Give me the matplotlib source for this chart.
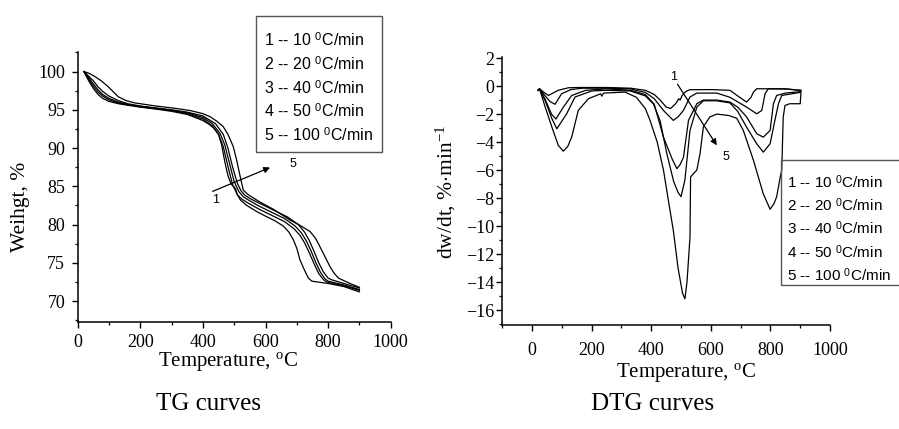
import matplotlib
matplotlib.use("Agg")
import matplotlib.pyplot as plt
from matplotlib.patches import Rectangle
from matplotlib.ticker import MultipleLocator

plt.rcParams['font.family'] = ['Liberation Serif', 'DejaVu Serif']
plt.rcParams['mathtext.fontset'] = 'custom'
plt.rcParams['mathtext.rm'] = 'Liberation Serif'
plt.rcParams['mathtext.sf'] = 'Liberation Sans'
plt.rcParams['mathtext.it'] = 'Liberation Serif:italic'

# ---------------- data ----------------
rates = [10, 20, 40, 50, 100]

# TG curves (temperature degC, weight %)
tg_t1 = [20, 35, 50, 65, 80, 100, 130, 160, 200, 250, 300, 350, 400, 420, 435, 450, 460, 470, 480,
         490, 500, 505, 510, 520, 540, 572, 600, 630, 657, 675, 689, 700, 710, 725, 737, 748, 800, 850, 900]
tg_w1 = [100, 98.8, 97.8, 97.0, 96.5, 96.1, 95.8, 95.6, 95.35, 95.1, 94.8, 94.4, 93.6, 93.1, 92.6, 91.8,
         90.4, 88.2, 86.4, 85.3, 84.9, 84.6, 83.9, 83.2, 82.5, 81.7, 81.1, 80.5, 79.8, 79.0, 78.0, 76.9,
         75.4, 74.0, 73.0, 72.6, 72.3, 71.9, 71.2]
tg_t2 = [20, 35, 50, 65, 80, 100, 130, 160, 200, 250, 300, 350, 400, 430, 450, 465, 480, 495, 510,
         525, 545, 580, 620, 660, 690, 710, 725, 740, 755, 770, 785, 795, 850, 900]
tg_w2 = [100, 99.0, 98.1, 97.3, 96.8, 96.3, 95.9, 95.65, 95.4, 95.15, 94.9, 94.5, 93.8, 92.9, 91.8,
         90.2, 87.6, 85.2, 83.9, 83.3, 82.8, 82.0, 81.2, 80.4, 79.5, 78.6, 77.6, 76.3, 74.9, 73.6,
         72.8, 72.5, 72.0, 71.4]
tg_t3 = [20, 35, 50, 65, 80, 100, 130, 160, 200, 250, 300, 350, 400, 430, 455, 470, 485, 500, 515,
         530, 550, 580, 620, 660, 695, 715, 730, 745, 760, 775, 790, 800, 850, 900]
tg_w3 = [100, 99.2, 98.4, 97.6, 97.0, 96.5, 96.0, 95.7, 95.45, 95.2, 94.95, 94.6, 94.0, 93.2, 91.9,
         90.4, 88.0, 85.6, 84.3, 83.6, 83.1, 82.4, 81.6, 80.8, 79.8, 78.9, 77.9, 76.6, 75.1, 73.8,
         72.9, 72.6, 72.1, 71.5]
tg_t4 = [20, 35, 50, 65, 80, 100, 130, 160, 200, 250, 300, 350, 400, 440, 465, 480, 495, 510, 522,
         535, 555, 590, 630, 670, 705, 725, 740, 755, 770, 785, 800, 810, 850, 900]
tg_w4 = [100, 99.4, 98.8, 98.0, 97.4, 96.8, 96.2, 95.8, 95.5, 95.25, 95.0, 94.7, 94.2, 93.2, 91.8,
         90.0, 87.5, 85.4, 84.4, 83.8, 83.3, 82.6, 81.8, 81.0, 80.0, 79.0, 77.9, 76.5, 75.0, 73.8,
         73.0, 72.8, 72.3, 71.7]
tg_t5 = [20, 35, 55, 75, 98, 115, 130, 155, 183, 250, 311, 360, 400, 423, 445, 465, 480, 497, 508,
         519, 529, 545, 580, 625, 678, 710, 742, 760, 774, 790, 806, 820, 833, 870, 900]
tg_w5 = [100, 99.8, 99.35, 98.8, 98.0, 97.3, 96.7, 96.2, 95.9, 95.5, 95.2, 94.9, 94.5, 94.1, 93.5,
         92.8, 91.8, 90.2, 88.4, 86.3, 84.5, 83.9, 83.0, 82.0, 80.6, 79.9, 79.1, 78.2, 77.1, 75.8,
         74.5, 73.6, 73.0, 72.3, 71.8]

# DTG curves (temperature degC, dw/dt %/min)
dtg_t1 = [20, 25, 40, 55, 70, 88, 122, 160, 250, 330, 380, 410, 430, 450, 465, 480, 487, 492, 497,
          503, 510, 519, 530, 600, 664, 690, 720, 735, 743, 754, 850, 900]
dtg_v1 = [-0.3, -0.2, -0.45, -0.67, -0.5, -0.3, -0.12, -0.1, -0.1, -0.15, -0.3, -0.6, -1.0, -1.5,
          -1.6, -1.3, -1.1, -0.9, -1.0, -0.7, -0.5, -0.35, -0.26, -0.25, -0.3, -0.7, -1.14, -0.8,
          -0.43, -0.19, -0.2, -0.3]
dtg_t2 = [20, 25, 40, 60, 77, 99, 130, 170, 250, 330, 380, 410, 441, 474, 490, 508, 530, 553, 620,
          664, 720, 754, 771, 782, 793, 850, 900]
dtg_v2 = [-0.3, -0.2, -0.6, -1.1, -1.3, -0.55, -0.25, -0.15, -0.15, -0.2, -0.45, -0.9, -1.74, -2.45,
          -2.2, -1.74, -0.78, -0.5, -0.5, -0.8, -1.5, -1.98, -1.74, -0.55, -0.19, -0.2, -0.3]
dtg_t3 = [20, 25, 45, 65, 80, 105, 133, 180, 250, 330, 380, 410, 441, 470, 486, 497, 508, 525, 553,
          575, 620, 664, 690, 720, 754, 776, 799, 810, 821, 850, 900]
dtg_v3 = [-0.3, -0.2, -1.0, -2.0, -2.35, -1.5, -0.67, -0.3, -0.2, -0.3, -0.6, -1.3, -3.65, -5.2,
          -5.9, -5.6, -5.1, -2.45, -1.26, -1.0, -1.0, -1.14, -1.5, -2.2, -3.4, -3.65, -3.17, -1.26,
          -0.67, -0.5, -0.4]
dtg_t4 = [20, 25, 45, 66, 83, 116, 144, 200, 250, 330, 380, 407, 430, 452, 475, 490, 500, 513, 530,
          553, 575, 620, 664, 690, 720, 754, 776, 799, 815, 827, 838, 900]
dtg_v4 = [-0.3, -0.2, -1.1, -2.3, -3.05, -1.98, -0.78, -0.35, -0.3, -0.35, -0.7, -1.26, -2.5, -4.8,
          -6.8, -7.6, -7.9, -6.7, -3.17, -1.5, -1.05, -1.05, -1.2, -1.8, -2.93, -4.12, -4.72, -4.12,
          -2.45, -1.26, -0.67, -0.45]
dtg_t5 = [20, 25, 44, 66, 88, 105, 120, 133, 155, 189, 230, 234, 240, 312, 350, 380, 396, 420, 441,
          460, 474, 490, 505, 513, 520, 530, 532, 540, 553, 564, 575, 597, 620, 660, 687, 709, 743,
          776, 799, 812, 821, 833, 838, 843, 849, 865, 900, 903]
dtg_v5 = [-0.3, -0.2, -1.5, -2.9, -4.24, -4.65, -4.3, -3.64, -1.74, -0.9, -0.55, -0.72, -0.5,
          -0.43, -0.8, -1.6, -2.45, -4.0, -6.0, -8.5, -10.3, -13.0, -14.8, -15.2, -14.0, -10.8, -6.5,
          -6.3, -6.0, -4.8, -2.9, -2.2, -2.0, -2.1, -2.3, -3.17, -5.3, -7.7, -8.8, -8.4, -7.9, -6.5,
          -6.0, -2.2, -1.38, -1.26, -1.26, -0.3]

tg_series = [(tg_t1, tg_w1), (tg_t2, tg_w2), (tg_t3, tg_w3), (tg_t4, tg_w4), (tg_t5, tg_w5)]
dtg_series = [(dtg_t1, dtg_v1), (dtg_t2, dtg_v2), (dtg_t3, dtg_v3), (dtg_t4, dtg_v4), (dtg_t5, dtg_v5)]
legend_labels = [f"{i + 1} -- {r} $^{{\\mathsf{{0}}}}$C/min" for i, r in enumerate(rates)]

# ---------------- figure ----------------
W, H = 899, 429
fig = plt.figure(figsize=(W / 100, H / 100), dpi=100)


def fx(px):
    return px / W


def fy(py):
    return 1 - py / H


ax1 = fig.add_axes([fx(77.7), fy(321.7), fx(313.0), 270.0 / H])
ax2 = fig.add_axes([fx(502.3), fy(325.0), fx(327.7), 268.3 / H])

for ax in (ax1, ax2):
    for s in ('top', 'right'):
        ax.spines[s].set_visible(False)
    for s in ('left', 'bottom'):
        ax.spines[s].set_linewidth(1.1)
    ax.tick_params(which='major', direction='out', length=4, width=1.0, labelsize=13)
    ax.tick_params(which='minor', direction='out', length=2.2, width=0.9)
    ax.set_facecolor('white')

for t, w in tg_series:
    ax1.plot(t, w, color='black', lw=0.9)
ax1.set_xlim(0, 1000)
ax1.set_ylim(67.3, 102.6)
ax1.xaxis.set_major_locator(MultipleLocator(200))
ax1.xaxis.set_minor_locator(MultipleLocator(100))
ax1.yaxis.set_major_locator(MultipleLocator(5))
ax1.yaxis.set_minor_locator(MultipleLocator(2.5))
ax1.tick_params(axis='y', pad=5)
ax1.tick_params(axis='x', pad=4.5)

for t, v in dtg_series:
    ax2.plot(t, v, color='black', lw=0.9)
ax2.set_xlim(-100, 1000)
ax2.set_ylim(-17.07, 2.1)
ax2.set_xticks([0, 200, 400, 600, 800, 1000])
ax2.xaxis.set_minor_locator(MultipleLocator(100))
ax2.yaxis.set_major_locator(MultipleLocator(2))
ax2.yaxis.set_minor_locator(MultipleLocator(1))
ax2.tick_params(axis='y', pad=2)
ax2.tick_params(axis='x', pad=8)

# arrows
arrow_kw = dict(arrowstyle='-|>', color='black', lw=0.9, mutation_scale=9)
ax1.annotate('', xy=(623, 87.6), xytext=(423, 84.2), arrowprops=arrow_kw)
ax1.text(442, 83.2, '1', fontsize=9, family='Liberation Sans', ha='center', va='center')
ax1.text(687, 87.9, '5', fontsize=9, family='Liberation Sans', ha='center', va='center')
ax2.annotate('', xy=(625, -4.4), xytext=(483, 0.3), arrowprops=arrow_kw)
ax2.text(474, 0.65, '1', fontsize=9, family='Liberation Sans', ha='center', va='center')
ax2.text(651, -5.1, '5', fontsize=9, family='Liberation Sans', ha='center', va='center')

# legends (text-only boxes)
fig.patches.append(Rectangle((fx(256), fy(152)), fx(126), 136.3 / H, transform=fig.transFigure,
                             fill=False, edgecolor='#555555', lw=1.0))
for i, lab in enumerate(legend_labels):
    fig.text(fx(264), fy(40 + 23.75 * i), lab, fontsize=11.5, family='Liberation Sans',
             ha='left', va='center')
fig.patches.append(Rectangle((fx(781), fy(285)), fx(130), 125.0 / H, transform=fig.transFigure,
                             fill=False, edgecolor='#555555', lw=1.0))
for i, lab in enumerate(legend_labels):
    fig.text(fx(787), fy(181.7 + 23.3 * i), lab, fontsize=11, family='Liberation Sans',
             ha='left', va='center')

# axis labels
fig.text(fx(228), fy(366), 'Temperature, $^{\\mathrm{o}}$C', fontsize=15, ha='center', va='baseline')
fig.text(fx(686), fy(377), 'Temperature, $^{\\mathrm{o}}$C', fontsize=15, ha='center', va='baseline')
fig.text(fx(21), fy(207), 'Weihgt, %', fontsize=15.5, rotation=90, ha='center', va='center')
fig.text(fx(446), fy(192), 'dw/dt, %$\\cdot$min$^{-1}$', fontsize=15.5, rotation=90,
         ha='center', va='center')

# panel captions
fig.text(fx(208), fy(404), 'TG curves', fontsize=18, ha='center', va='center')
fig.text(fx(653), fy(404), 'DTG curves', fontsize=18, ha='center', va='center')

fig.savefig('out.png', dpi=100, facecolor='white')
